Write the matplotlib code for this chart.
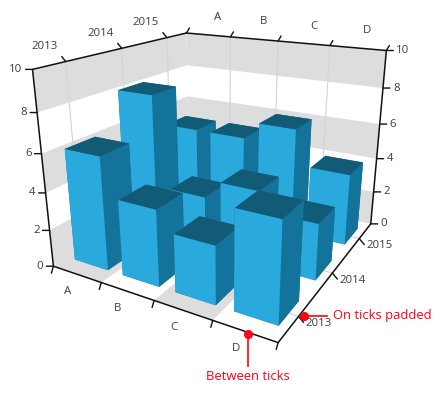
import matplotlib
matplotlib.use('Agg')
import matplotlib.pyplot as plt
from matplotlib.lines import Line2D
from mpl_toolkits.mplot3d import proj3d
from mpl_toolkits.mplot3d.art3d import Poly3DCollection

categories = ['A', 'B', 'C', 'D']
years = ['2013', '2014', '2015']
values_2013 = [6, 4, 3, 5]
values_2014 = [8, 3, 4, 3]
values_2015 = [5, 5, 6, 4]
z_ticks = [0, 2, 4, 6, 8, 10]

FRONT = '#2AA9DC'
SIDE = '#14739A'
TOP = '#115B77'
BAND = '#DDDDDD'
GRID = '#D4D4D4'
INK = '#3C3C3C'
RED = '#FF0018'
W, H = 444, 393

plt.rcParams['font.family'] = ['Open Sans', 'DejaVu Sans']
fig = plt.figure(figsize=(W / 100, H / 100), dpi=100)
# camera and box fitted to the corners of the reference
s, tx, ty = 2084.5, 222.96, 236.63
size = s * 0.185
ax = fig.add_axes([(tx - s * 0.095) / W, (ty - s * 0.095) / H, size / W, size / H], projection='3d', computed_zorder=False)
ax.view_init(19.739, -60.264)
ax.set_proj_type('persp', focal_length=0.294)
ax.set_box_aspect((1, 1.0188, 0.806))
ax.set_xlim(0, 4, view_margin=0)
ax.set_ylim(-.5, 2.5, view_margin=0)
ax.set_zlim(0, 10, view_margin=0)
ax.set_axis_off()
ax.patch.set_alpha(0)
M = ax.get_proj()
x0, x1, y0, y1 = 0, len(categories), -.5, len(years) - .5


def face(corners, color, z=1):
    ax.add_collection3d(Poly3DCollection([corners], facecolors=color, edgecolors='none', zorder=z))


def line3(xs, ys, zs, color=GRID, lw=.8, z=2):
    ax.plot(xs, ys, zs, color=color, lw=lw, zorder=z, clip_on=False, solid_capstyle='round')


def mark(x, y, z, dx, dy, text='', tick=None, ha='center'):
    px, py, _ = proj3d.proj_transform(x, y, z, M)
    if tick:
        ax.annotate('', xy=(px, py), xytext=tick, textcoords='offset pixels', annotation_clip=False,
                    arrowprops=dict(arrowstyle='-', color='#111111', lw=1, shrinkA=0, shrinkB=0))
    if text:
        ax.annotate(text, xy=(px, py), xytext=(dx, -dy), textcoords='offset pixels', ha=ha, va='center',
                    fontsize=8.2, color=INK, annotation_clip=False)


# walls and floor stripes
for lo in (0, 4, 8):
    hi = lo + 2
    face([(x0, y0, lo), (x0, y1, lo), (x0, y1, hi), (x0, y0, hi)], BAND)
    face([(x0, y1, lo), (x1, y1, lo), (x1, y1, hi), (x0, y1, hi)], BAND)
for i in (0, 2):
    face([(i, y0, 0), (i + 1, y0, 0), (i + 1, y1, 0), (i, y1, 0)], BAND)

# grid
for i in range(1, len(categories)):
    line3([i, i], [y1, y1], [0, 10])
for j in range(len(years)):
    line3([x0, x0], [j, j], [0, 10])
    line3([x0, x1], [j, j], [0, 0])

# bars, back to front
rows = [values_2013, values_2014, values_2015]
order = 10
for j in range(len(years) - 1, -1, -1):
    for i in range(len(categories)):
        ax.bar3d(i + .15, j - .25, 0, .7, .52, rows[j][i], shade=False, zorder=order,
                 color=[SIDE, TOP, FRONT, SIDE, SIDE, SIDE], edgecolor='none')
        order += 1

# axis lines
k = dict(color='#111111', lw=1.1, z=50)
line3([x0, x1], [y0, y0], [0, 0], **k)
line3([x1, x1], [y0, y1], [0, 0], **k)
line3([x0, x0], [y0, y0], [0, 10], **k)
line3([x1, x1], [y1, y1], [0, 10], **k)
line3([x0, x0], [y0, y1], [10, 10], **k)
line3([x0, x1], [y1, y1], [10, 10], **k)

# ticks and labels
for z in z_ticks:
    mark(x0, y0, z, -10, 0, str(z), (-7, 0), 'right')
    mark(x1, y1, z, 10, 0, str(z), (7, 0), 'left')
for i in range(len(categories) + 1):
    mark(i, y0, 0, 0, 0, tick=(-2, -7))
    mark(i, y1, 10, 0, 0, tick=(3, 5))
for i, name in enumerate(categories):
    mark(i + .5, y0, 0, -9, 17, name)
    mark(i + .5, y1, 10, 10, -17, name)
for j, name in enumerate(years):
    mark(x1, j, 0, 20, 7, name, (5, -6))
    mark(x0, j, 10, -21, -15, name, (-4, 5))

# callouts
def px_line(xs, ys):
    fig.add_artist(Line2D([v / W for v in xs], [1 - v / H for v in ys], color=RED, lw=1.2))


px_line([248, 248], [334, 366])
px_line([304, 327], [316, 316])
fig.add_artist(Line2D([248 / W], [1 - 334 / H], marker='o', ms=5.5, color=RED))
fig.add_artist(Line2D([304 / W], [1 - 316 / H], marker='o', ms=5.5, color=RED))
fig.text(248 / W, 1 - 376 / H, 'Between ticks', color=RED, fontsize=9.4, ha='center', va='center')
fig.text(333 / W, 1 - 315 / H, 'On ticks padded', color=RED, fontsize=9.4, ha='left', va='center')

fig.savefig('out.png', dpi=100)
